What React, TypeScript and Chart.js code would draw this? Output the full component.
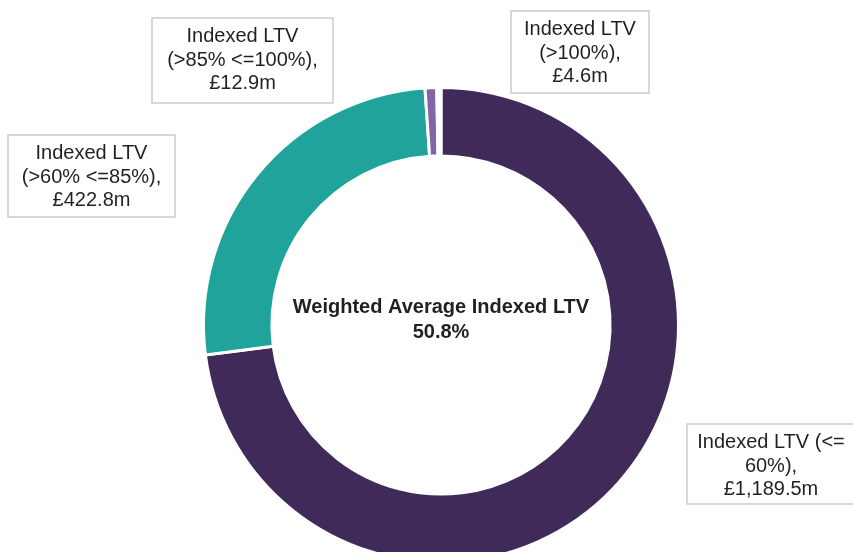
import React, { useEffect, useRef } from "react";
import { Chart, registerables } from "chart.js";

Chart.register(...registerables);

const categories = [
  "Indexed LTV (<= 60%)",
  "Indexed LTV (>60% <=85%)",
  "Indexed LTV (>85% <=100%)",
  "Indexed LTV (>100%)",
];
const values = [1189.5, 422.8, 12.9, 4.6];
const valueLabels = ["£1,189.5m", "£422.8m", "£12.9m", "£4.6m"];
const labelLines = [
  ["Indexed LTV (<=", "60%),", "£1,189.5m"],
  ["Indexed LTV", "(>60% <=85%),", "£422.8m"],
  ["Indexed LTV", "(>85% <=100%),", "£12.9m"],
  ["Indexed LTV", "(>100%),", "£4.6m"],
];
const colors = ["#3f2a5a", "#20a39b", "#8464a6", "#ffffff"];
const centerTitle = "Weighted Average Indexed LTV";
const centerValue = "50.8%";

// box layout relative to doughnut centre: [left, top, width, height]
const boxes = [
  [246, 99, 168, 80],
  [-433, -190, 167, 82],
  [-289, -307, 181, 85],
  [70, -314, 138, 82],
];

const W = 853;
const H = 640;
const CX = 441;
const CY = 325;

const labelPlugin = {
  id: "ltvLabels",
  afterDraw(chart: any) {
    const ctx = chart.ctx;
    const arc = chart.getDatasetMeta(0).data[0];
    const cx = arc.x;
    const cy = arc.y;
    ctx.save();
    // center text
    ctx.fillStyle = "#231f20";
    ctx.textAlign = "center";
    ctx.textBaseline = "alphabetic";
    ctx.font = "bold 20px 'Liberation Sans', Arial, sans-serif";
    ctx.fillText(centerTitle, cx, cy - 12);
    ctx.fillText(centerValue, cx, cy + 13);
    // boxes
    ctx.font = "20px 'Liberation Sans', Arial, sans-serif";
    boxes.forEach((b, i) => {
      const x = cx + b[0];
      const y = cy + b[1];
      ctx.fillStyle = "#ffffff";
      ctx.fillRect(x, y, b[2], b[3]);
      ctx.strokeStyle = "#cccccc";
      ctx.lineWidth = 1.5;
      ctx.strokeRect(x, y, b[2], b[3]);
      ctx.fillStyle = "#231f20";
      const mx = x + b[2] / 2;
      labelLines[i].forEach((line, j) => {
        ctx.fillText(line, mx, y + 24 + j * 23.5);
      });
    });
    ctx.restore();
  },
};

export default function App() {
  const ref = useRef<HTMLCanvasElement>(null);
  useEffect(() => {
    if (!ref.current) return;
    const a = 250;
    const chart = new Chart(ref.current, {
      type: "doughnut",
      data: {
        labels: categories,
        datasets: [
          {
            data: values,
            backgroundColor: colors,
            borderColor: "#ffffff",
            borderWidth: 3,
            hoverOffset: 0,
          },
        ],
      },
      options: {
        responsive: false,
        animation: false,
        radius: 237.5,
        cutout: "71.2%",
        layout: {
          padding: {
            left: CX - a,
            right: W - CX - a,
            top: CY - a,
            bottom: H - CY - a,
          },
        },
        plugins: {
          legend: { display: false },
          tooltip: { enabled: false },
        },
      } as any,
      plugins: [labelPlugin],
    });
    return () => chart.destroy();
  }, []);
  return (
    <div style={{ position: "fixed", left: 0, top: 0, width: W, height: H, background: "#fff" }}>
      <canvas ref={ref} width={W} height={H} style={{ width: W, height: H, display: "block" }} />
    </div>
  );
}
